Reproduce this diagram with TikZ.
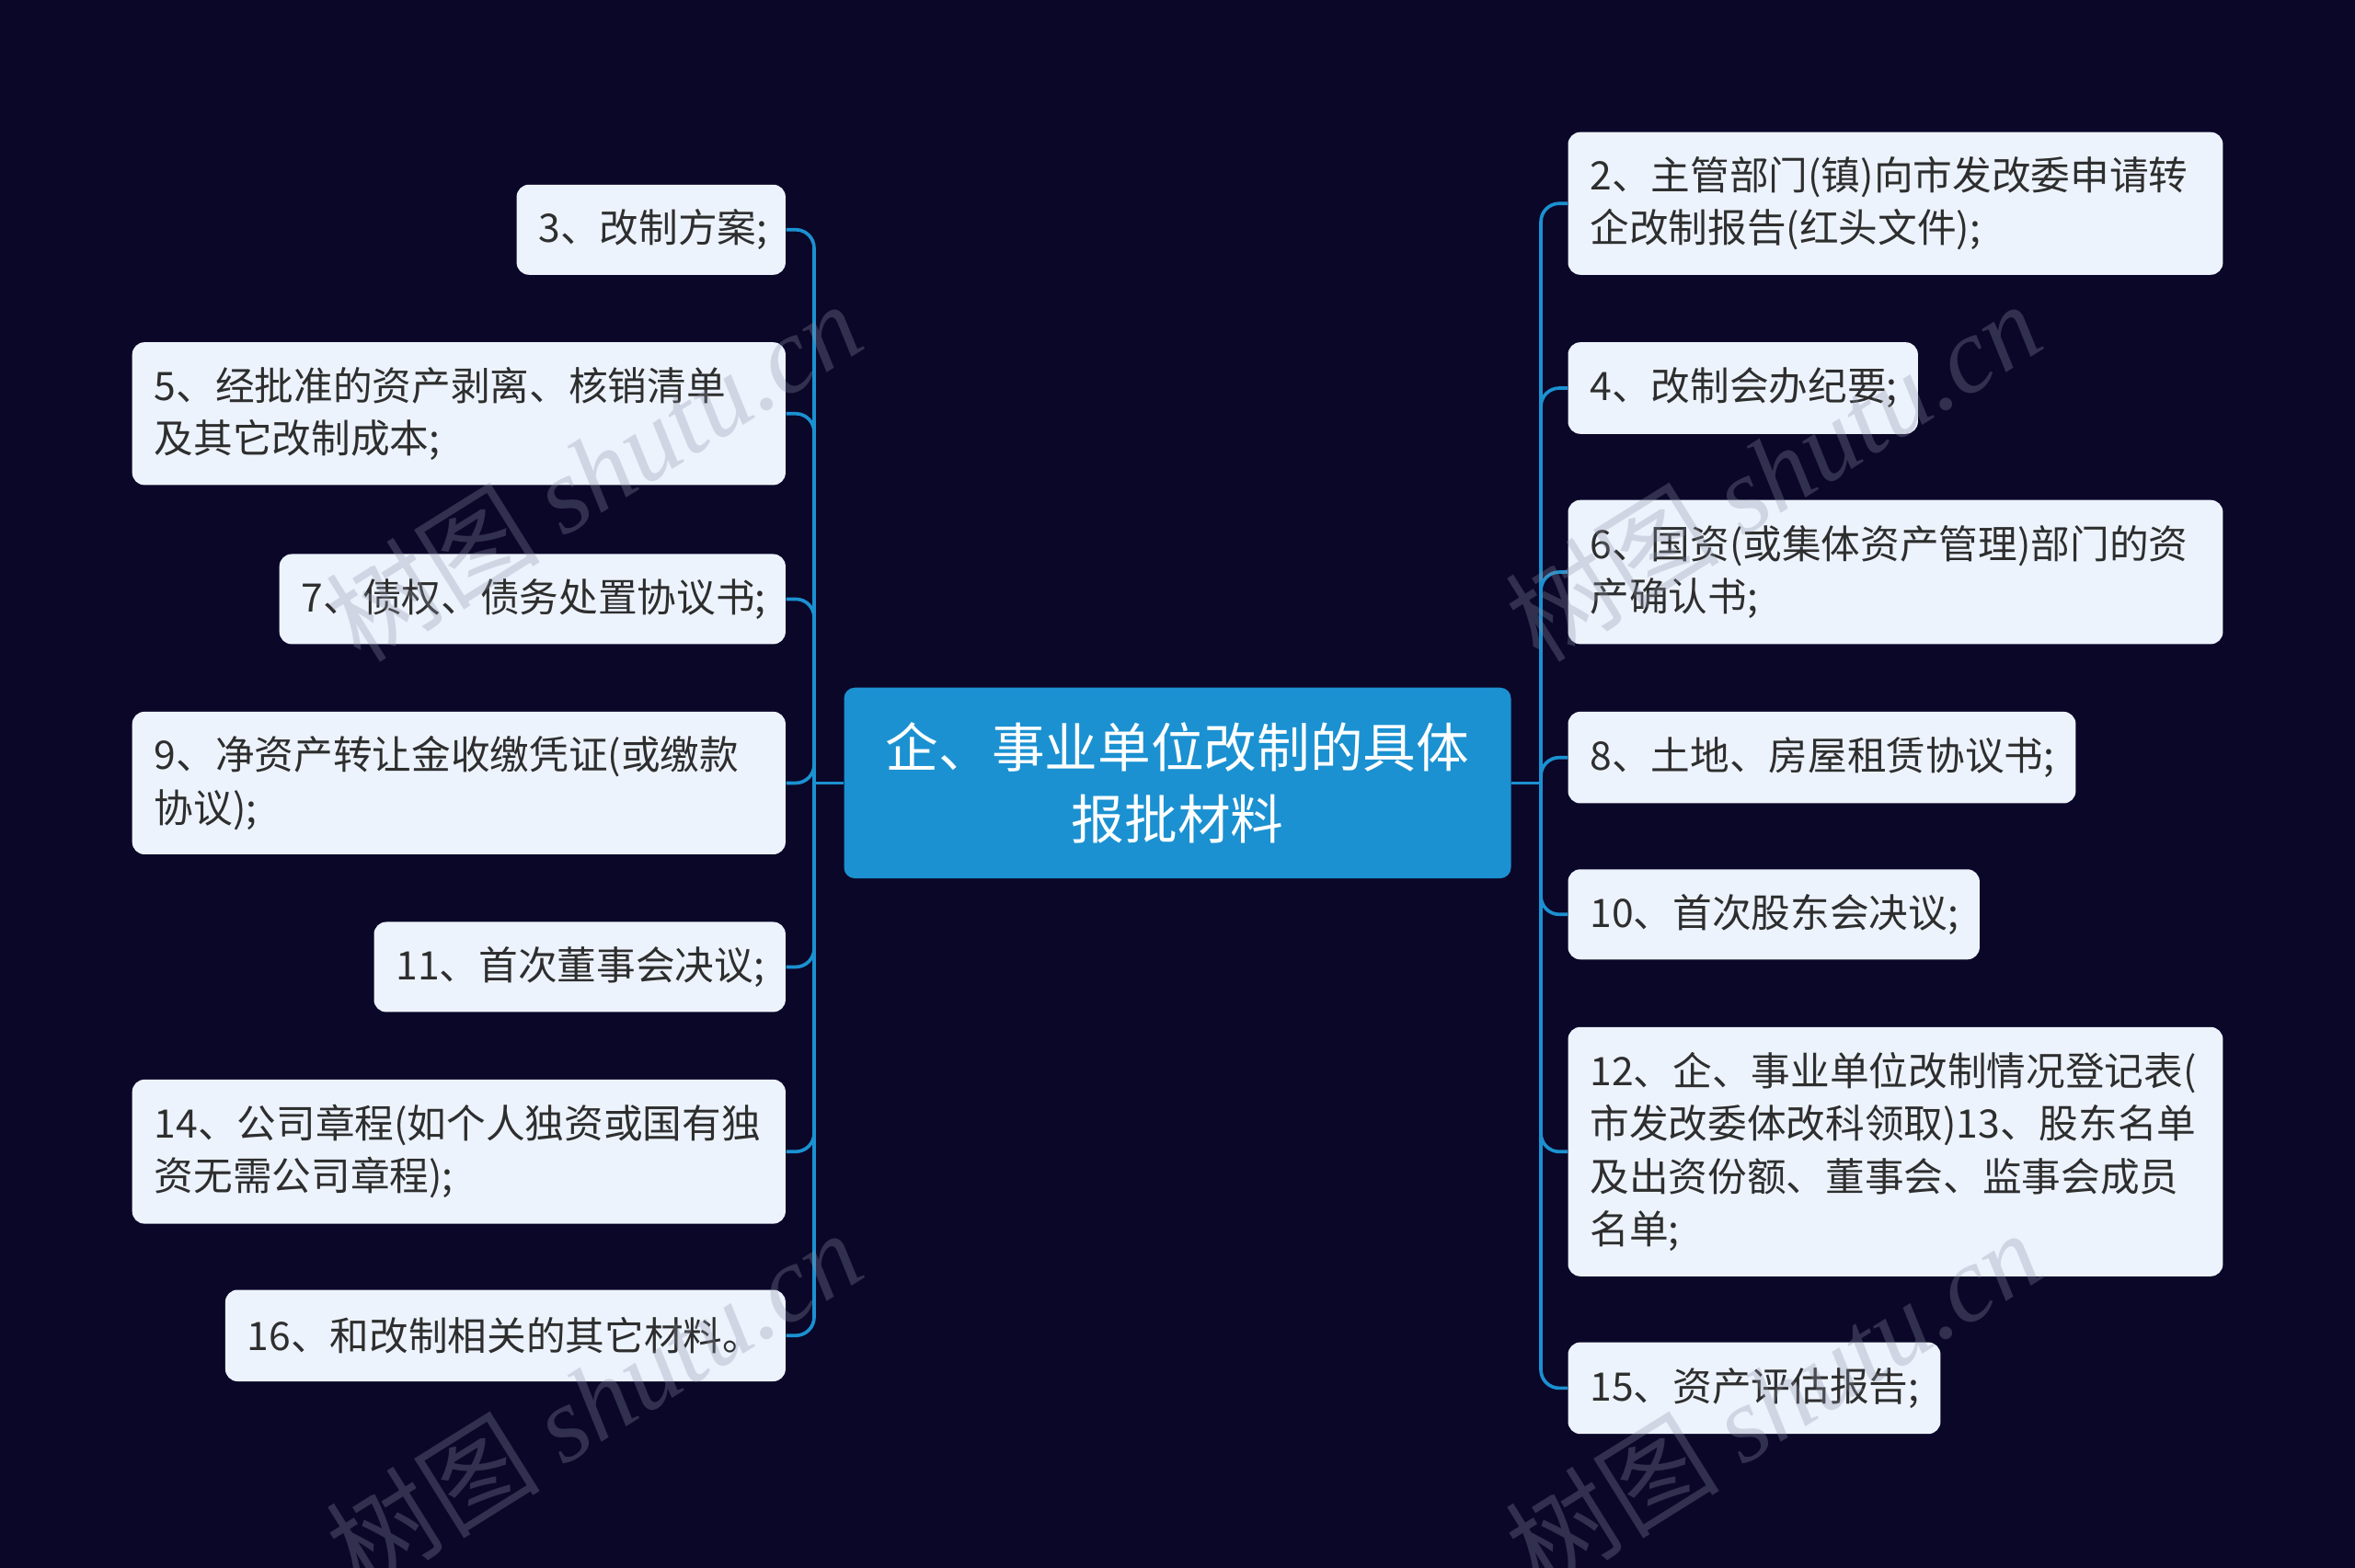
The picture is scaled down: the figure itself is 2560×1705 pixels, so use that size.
\documentclass[tikz,border=0pt]{standalone}
\usepackage{fontspec}
\setmainfont{Noto Sans CJK SC}
\newfontfamily\wmlatin{Liberation Serif}
\definecolor{bgc}{HTML}{0B0729}
\definecolor{bluec}{HTML}{1B91D1}
\definecolor{leaffill}{HTML}{EDF3FD}
\definecolor{leaftext}{HTML}{2E2E2E}
\definecolor{wmc}{HTML}{8A90A4}
\tikzset{
  leaf/.style={fill=leaffill, rounded corners=4pt, text=leaftext, inner sep=0pt,
    font=\fontsize{12.8}{17.2}\selectfont, align=left},
  rootbox/.style={fill=bluec, rounded corners=3.5pt, text=white, inner sep=0pt,
    font=\fontsize{17.3}{23.5}\selectfont, align=center},
  conn/.style={draw=bluec, line width=1.1pt, rounded corners=6pt},
  wm/.style={text=wmc, opacity=0.3, rotate=32, font=\fontsize{35}{35}\selectfont}
}
\newcommand\leafnode[6]{%
  \pgfmathsetmacro\lw{(#4-#2)*0.3}%
  \pgfmathsetmacro\lh{(#5-#3)*0.3}%
  \pgfmathsetmacro\tw{\lw-14.4}%
  \node[leaf, minimum width=\lw pt, minimum height=\lh pt, text width=\tw pt] (#1) at ({(#2+#4)/2},{(#3+#5)/2}) {#6};}
\begin{document}
\begin{tikzpicture}[x=0.3pt,y=-0.3pt]
\fill[bgc] (0,0) rectangle (2560,1705);
\useasboundingbox (0,0) rectangle (2560,1705);

% root
\node[rootbox, minimum width=217.5pt, minimum height=62.2pt] (c) at (1280,851.4)
  {企、事业单位改制的具体\\报批材料};

% left leaves
\leafnode{l1}{561.6}{200.8}{853.9}{298.8}{3、改制方案;}
\leafnode{l2}{143.7}{372.2}{853.9}{527.4}{5、经批准的资产剥离、核销清单\\及其它改制成本;}
\leafnode{l3}{303.7}{602.5}{853.9}{700.4}{7、债权、债务处置协议书;}
\leafnode{l4}{143.7}{773.9}{853.9}{929.0}{9、净资产转让金收缴凭证(或缴款\\协议);}
\leafnode{l5}{406.5}{1002.5}{853.9}{1100.4}{11、首次董事会决议;}
\leafnode{l6}{143.7}{1173.9}{853.9}{1330.6}{14、公司章程(如个人独资或国有独\\资无需公司章程);}
\leafnode{l7}{244.9}{1402.5}{853.9}{1502.0}{16、和改制相关的其它材料。}

% right leaves
\leafnode{r1}{1704.5}{143.7}{2416.4}{298.8}{2、主管部门(镇)向市发改委申请转\\企改制报告(红头文件);}
\leafnode{r2}{1704.5}{372.2}{2084.9}{471.8}{4、改制会办纪要;}
\leafnode{r3}{1704.5}{543.7}{2416.4}{700.4}{6、国资(或集体资产管理)部门的资\\产确认书;}
\leafnode{r4}{1704.5}{773.9}{2256.4}{873.5}{8、土地、房屋租赁协议书;}
\leafnode{r5}{1704.5}{945.3}{2151.9}{1043.3}{10、首次股东会决议;}
\leafnode{r6}{1704.5}{1116.8}{2416.4}{1387.8}{12、企、事业单位改制情况登记表(\\市发改委体改科领取)13、股东名单\\及出资份额、董事会、监事会成员\\名单;}
\leafnode{r7}{1704.5}{1459.6}{2109.4}{1559.2}{15、资产评估报告;}

% connectors
\coordinate (lt) at (885,851.4);
\coordinate (rt) at (1675,851.4);
\draw[conn] (c.west) -- (lt);
\draw[conn] (c.east) -- (rt);
\foreach \n in {l1,l2,l3,l4,l5,l6,l7} {\draw[conn] (lt) |- (\n.east);}
\foreach \n in {r1,r2,r3,r4,r5,r6,r7} {\draw[conn] (rt) |- (\n.west);}

% watermarks
\node[wm] (w1) at (645,512) {树图 {\wmlatin\itshape shutu.cn}};
\node[wm] (w2) at (1927,512) {树图 {\wmlatin\itshape shutu.cn}};
\node[wm] (w3) at (645,1522) {树图 {\wmlatin\itshape shutu.cn}};
\node[wm] (w4) at (1927,1522) {树图 {\wmlatin\itshape shutu.cn}};
\end{tikzpicture}
\end{document}
